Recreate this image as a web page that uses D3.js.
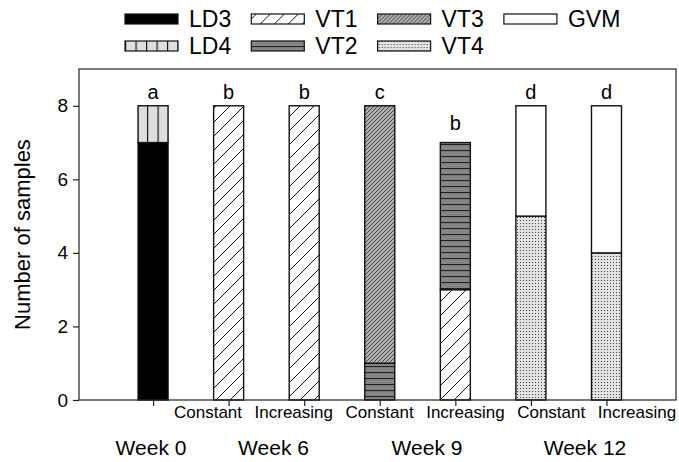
<!DOCTYPE html>
<meta charset="utf-8">
<style>
    body { margin: 0; background: #fff; }
    text { font-family: "Liberation Sans", Arial, sans-serif; fill: #000; }
</style>
<body>
<svg id="chart"></svg>
<script src="https://cdn.jsdelivr.net/npm/d3@7"></script>
<script>

// categories, in plotting order
var groups = ["Week 0", "Week 6", "Week 6", "Week 9", "Week 9", "Week 12", "Week 12"];
var regimes = ["", "Constant", "Increasing", "Constant", "Increasing", "Constant", "Increasing"];
var letters = ["a", "b", "b", "c", "b", "d", "d"];

// series (stack order bottom -> top)
var series = ["LD3", "LD4", "VT1", "VT2", "VT3", "VT4", "GVM"];
var LD3 = [7, 0, 0, 0, 0, 0, 0];
var LD4 = [1, 0, 0, 0, 0, 0, 0];
var VT1 = [0, 8, 8, 0, 3, 0, 0];
var VT2 = [0, 0, 0, 1, 4, 0, 0];
var VT3 = [0, 0, 0, 7, 0, 0, 0];
var VT4 = [0, 0, 0, 0, 0, 5, 4];
var GVM = [0, 0, 0, 0, 0, 3, 4];

var yTicks = [0, 2, 4, 6, 8];
var weekLabels = ["Week 0", "Week 6", "Week 9", "Week 12"];

// legend order (two rows)
var legendRow1 = ["LD3", "VT1", "VT3", "GVM"];
var legendRow2 = ["LD4", "VT2", "VT4"];

var width = 679, height = 462;
// plot box ("top" is a reserved global in browsers, so pTop etc)
var pLeft = 79, pRight = 676, pTop = 69, pBottom = 400;

var svg = d3.select("#chart").attr("width", width).attr("height", height);

// ---- patterns
var defs = svg.append("defs");

function pat(id, w, h) {
    return defs.append("pattern").attr("id", id)
        .attr("patternUnits", "userSpaceOnUse")
        .attr("width", w).attr("height", h);
}

var p;
p = pat("pLD4", 10.5, 10);
p.append("rect").attr("width", 10.5).attr("height", 10).attr("fill", "#dedede");
p.append("line").attr("x1", 0.5).attr("x2", 0.5).attr("y1", 0).attr("y2", 10)
    .attr("stroke", "#111").attr("stroke-width", 1.3);

p = pat("pVT1", 14, 14);
p.append("rect").attr("width", 14).attr("height", 14).attr("fill", "#fff");
p.append("path").attr("d", "M0,14 L14,0 M-2,2 L2,-2 M12,16 L16,12")
    .attr("stroke", "#111").attr("stroke-width", 1);

p = pat("pVT2", 6, 6);
p.append("rect").attr("width", 6).attr("height", 6).attr("fill", "#858585");
p.append("line").attr("x1", 0).attr("x2", 6).attr("y1", 0.5).attr("y2", 0.5)
    .attr("stroke", "#222").attr("stroke-width", 1.2);

p = pat("pVT3", 4, 4);
p.append("rect").attr("width", 4).attr("height", 4).attr("fill", "#b0b0b0");
p.append("path").attr("d", "M0,4 L4,0 M-1,1 L1,-1 M3,5 L5,3")
    .attr("stroke", "#3a3a3a").attr("stroke-width", 0.9);

p = pat("pVT4", 3, 3);
p.append("rect").attr("width", 3).attr("height", 3).attr("fill", "#e2e2e2");
p.append("rect").attr("x", 1).attr("y", 1).attr("width", 1).attr("height", 1).attr("fill", "#444");

var fills = {
    LD3: "#000",
    LD4: "url(#pLD4)",
    VT1: "url(#pVT1)",
    VT2: "url(#pVT2)",
    VT3: "url(#pVT3)",
    VT4: "url(#pVT4)",
    GVM: "#fff"
};

// ---- scales
var x = d3.scaleLinear().domain([-0.98, 6.92]).range([pLeft, pRight]);
var y = d3.scaleLinear().domain([0, 9]).range([pBottom, pTop]);
var barW = 30;

// ---- stacked data
var rows = groups.map(function (g, i) {
    return { i: i, LD3: LD3[i], LD4: LD4[i], VT1: VT1[i], VT2: VT2[i], VT3: VT3[i], VT4: VT4[i], GVM: GVM[i] };
});
var stacked = d3.stack().keys(series)(rows);

svg.append("g").selectAll("g")
    .data(stacked)
    .enter().append("g")
    .attr("fill", function (d) { return fills[d.key]; })
    .selectAll("rect")
    .data(function (d) { return d.filter(function (s) { return s[1] > s[0]; }); })
    .enter().append("rect")
    .attr("x", function (d) { return x(d.data.i) - barW / 2; })
    .attr("y", function (d) { return y(d[1]); })
    .attr("width", barW)
    .attr("height", function (d) { return y(d[0]) - y(d[1]); })
    .attr("stroke", "#111")
    .attr("stroke-width", 1.4);

// significance letters
svg.append("g").selectAll("text")
    .data(letters)
    .enter().append("text")
    .attr("x", function (d, i) { return x(i); })
    .attr("y", function (d, i) {
        var tot = d3.sum(series, function (k) { return rows[i][k]; });
        return y(tot) - (tot < 8 ? 13 : 7);
    })
    .attr("text-anchor", "middle")
    .style("font-size", "20px")
    .text(function (d) { return d; });

// ---- frame
svg.append("rect")
    .attr("x", pLeft).attr("y", pTop)
    .attr("width", pRight - pLeft).attr("height", pBottom - pTop)
    .attr("fill", "none").attr("stroke", "#222").attr("stroke-width", 1.2);

// ---- axes
var yAxis = svg.append("g")
    .attr("transform", "translate(" + pLeft + ",0)")
    .call(d3.axisLeft(y).tickValues(yTicks).tickSize(6).tickPadding(5));
yAxis.select(".domain").remove();
yAxis.selectAll("line").attr("stroke", "#222").attr("stroke-width", 1.2);
yAxis.selectAll("text").style("font-size", "19px").attr("font-family", null);

var xAxis = svg.append("g")
    .attr("transform", "translate(0," + pBottom + ")")
    .call(d3.axisBottom(x).tickValues(d3.range(groups.length)).tickSize(6).tickFormat(""));
xAxis.select(".domain").remove();
xAxis.selectAll("line").attr("stroke", "#222").attr("stroke-width", 1.2);

// regime labels under the ticks
var subX = d3.scaleLinear().domain([1, 6]).range([208, 637]);
svg.append("g").selectAll("text")
    .data(regimes)
    .enter().filter(function (d) { return d !== ""; }).append("text")
    .attr("x", function (d, i) { return subX(i + 1); })
    .attr("y", 418)
    .attr("text-anchor", "middle")
    .style("font-size", "17px")
    .text(function (d) { return d; });

// week labels
var weekX = [151, 273.5, 427, 585];
svg.append("g").selectAll("text")
    .data(weekLabels)
    .enter().append("text")
    .attr("x", function (d, i) { return weekX[i]; })
    .attr("y", 455)
    .attr("text-anchor", "middle")
    .style("font-size", "21px")
    .text(function (d) { return d; });

// y title
svg.append("text")
    .attr("transform", "translate(30," + ((pTop + pBottom) / 2) + ") rotate(-90)")
    .attr("text-anchor", "middle")
    .style("font-size", "22px")
    .text("Number of samples");

// ---- legend
function legendRow(keys, cy) {
    var g = svg.append("g").selectAll("g")
        .data(keys)
        .enter().append("g")
        .attr("transform", function (d, i) { return "translate(" + (125 + i * 126.3) + "," + cy + ")"; });
    g.append("rect")
        .attr("x", 0).attr("y", -5)
        .attr("width", 53).attr("height", 10)
        .attr("fill", function (d) { return fills[d]; })
        .attr("stroke", "#111").attr("stroke-width", 1.2);
    g.append("text")
        .attr("x", 64).attr("y", 8)
        .style("font-size", "23px")
        .text(function (d) { return d; });
}
legendRow(legendRow1, 19);
legendRow(legendRow2, 46);

</script>
</body>
